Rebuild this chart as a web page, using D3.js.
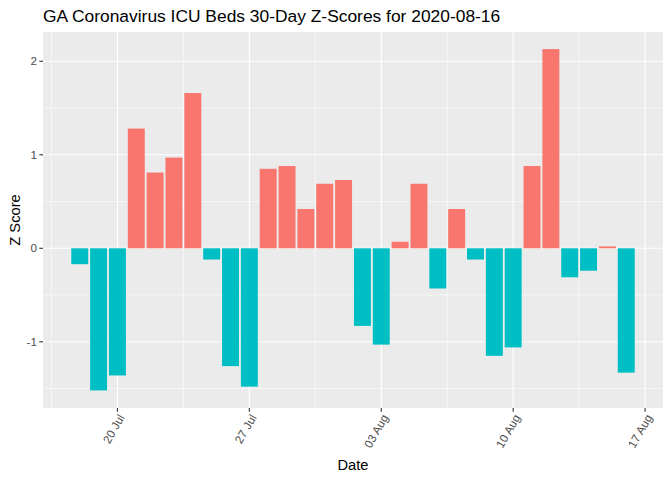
<!DOCTYPE html>
<html><head><meta charset="utf-8">
<script src="https://cdn.jsdelivr.net/npm/d3@7"></script>
<style>body{margin:0;background:#fff}svg{display:block;font-family:"Liberation Sans",Arial,sans-serif}</style>
</head><body><svg id="c" width="672" height="480"></svg>
<script>
const dates = ["2020-07-18","2020-07-19","2020-07-20","2020-07-21","2020-07-22","2020-07-23","2020-07-24","2020-07-25","2020-07-26","2020-07-27","2020-07-28","2020-07-29","2020-07-30","2020-07-31","2020-08-01","2020-08-02","2020-08-03","2020-08-04","2020-08-05","2020-08-06","2020-08-07","2020-08-08","2020-08-09","2020-08-10","2020-08-11","2020-08-12","2020-08-13","2020-08-14","2020-08-15","2020-08-16"];
const zscores = [-0.17,-1.52,-1.36,1.28,0.81,0.97,1.66,-0.12,-1.26,-1.48,0.85,0.88,0.42,0.69,0.73,-0.83,-1.03,0.07,0.69,-0.43,0.42,-0.12,-1.15,-1.06,0.88,2.13,-0.31,-0.24,0.02,-1.33];
const xTicks = ["2020-07-20","2020-07-27","2020-08-03","2020-08-10","2020-08-17"];
const xMinor = ["2020-07-16T12:00","2020-07-23T12:00","2020-07-30T12:00","2020-08-06T12:00","2020-08-13T12:00"];
const yTicks = [-1,0,1,2];
const yMinor = [-1.5,-0.5,0.5,1.5];
const title = "GA Coronavirus ICU Beds 30-Day Z-Scores for 2020-08-16";

const svg = d3.select("#c");
const L=43, R=663, T=32, B=408;
const parse = d3.isoParse;
const day = 864e5;
const x = d3.scaleTime().domain([new Date(parse("2020-07-16").getTime()+0.05*day), new Date(parse("2020-08-17").getTime()+0.95*day)]).range([L,R]);
const y = d3.scaleLinear().domain([-1.708,2.313]).range([B,T]);
const pxDay = x(parse("2020-07-21"))-x(parse("2020-07-20"));

svg.append("rect").attr("x",L).attr("y",T).attr("width",R-L).attr("height",B-T).attr("fill","#EBEBEB");
const g = svg.append("g");
g.selectAll(".ymin").data(yMinor).join("line").attr("x1",L).attr("x2",R).attr("y1",d=>y(d)).attr("y2",d=>y(d)).attr("stroke","#fff").attr("stroke-width",0.55);
g.selectAll(".xmin").data(xMinor).join("line").attr("y1",T).attr("y2",B).attr("x1",d=>x(parse(d))).attr("x2",d=>x(parse(d))).attr("stroke","#fff").attr("stroke-width",0.55);
g.selectAll(".ymaj").data(yTicks).join("line").attr("x1",L).attr("x2",R).attr("y1",d=>y(d)).attr("y2",d=>y(d)).attr("stroke","#fff").attr("stroke-width",1.1);
g.selectAll(".xmaj").data(xTicks).join("line").attr("y1",T).attr("y2",B).attr("x1",d=>x(parse(d))).attr("x2",d=>x(parse(d))).attr("stroke","#fff").attr("stroke-width",1.1);

const data = dates.map((d,i)=>({date:parse(d), v:zscores[i]}));
svg.append("g").selectAll("rect").data(data).join("rect")
  .attr("x",d=>x(d.date)-0.45*pxDay).attr("width",0.9*pxDay)
  .attr("y",d=>y(Math.max(0,d.v))).attr("height",d=>Math.abs(y(d.v)-y(0)))
  .attr("fill",d=>d.v>0?"#F8766D":"#00BFC4");

// y axis
const ya = svg.append("g");
ya.selectAll("line").data(yTicks).join("line").attr("x1",L-3.7).attr("x2",L).attr("y1",d=>y(d)).attr("y2",d=>y(d)).attr("stroke","#333").attr("stroke-width",1.1);
ya.selectAll("text").data(yTicks).join("text").attr("x",L-6).attr("y",d=>y(d)).attr("dy","0.35em").attr("text-anchor","end").attr("font-size","11.7px").attr("fill","#4D4D4D").text(d=>d);
// x axis
const xa = svg.append("g");
const fmt = d3.timeFormat("%d %b");
xa.selectAll("line").data(xTicks).join("line").attr("y1",B).attr("y2",B+3.7).attr("x1",d=>x(parse(d))).attr("x2",d=>x(parse(d))).attr("stroke","#333").attr("stroke-width",1.1);
xa.selectAll("text").data(xTicks).join("text")
  .attr("transform",d=>`translate(${x(parse(d))},${B+5}) rotate(-60)`)
  .attr("dy","0.75em").attr("text-anchor","end").attr("font-size","11.7px").attr("fill","#4D4D4D").text(d=>fmt(parse(d)));

svg.append("text").attr("x",(L+R)/2).attr("y",470).attr("text-anchor","middle").attr("font-size","14.7px").attr("fill","#000").text("Date");
svg.append("text").attr("transform",`translate(20,${(T+B)/2}) rotate(-90)`).attr("text-anchor","middle").attr("font-size","14.7px").attr("fill","#000").text("Z Score");
svg.append("text").attr("x",L).attr("y",22).attr("font-size","17.4px").attr("fill","#000").text(title);
</script></body></html>
